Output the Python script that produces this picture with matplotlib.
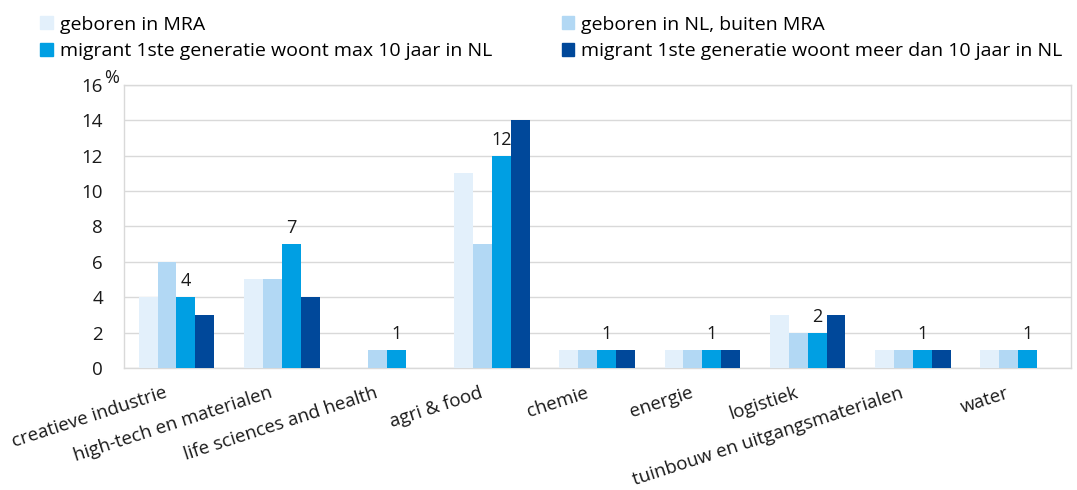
import matplotlib
matplotlib.use("Agg")
import matplotlib.pyplot as plt
import matplotlib.transforms as mtransforms
import numpy as np
from matplotlib.patches import Patch

plt.rcParams['font.family'] = ['Open Sans', 'DejaVu Sans']

categories = ["creatieve industrie", "high-tech en materialen", "life sciences and health",
              "agri & food", "chemie", "energie", "logistiek",
              "tuinbouw en uitgangsmaterialen", "water"]
series_names = ["geboren in MRA", "geboren in NL, buiten MRA",
                "migrant 1ste generatie woont max 10 jaar in NL",
                "migrant 1ste generatie woont meer dan 10 jaar in NL"]
geboren_mra = [4, 5, 0, 11, 1, 1, 3, 1, 1]
geboren_nl = [6, 5, 1, 7, 1, 1, 2, 1, 1]
migrant_max10 = [4, 7, 1, 12, 1, 1, 2, 1, 1]
migrant_meer10 = [3, 4, 0, 14, 1, 1, 3, 1, 0]
yticks = [0, 2, 4, 6, 8, 10, 12, 14, 16]

colors = ["#E3F0FB", "#B2D8F4", "#009FE3", "#00489A"]
series = [geboren_mra, geboren_nl, migrant_max10, migrant_meer10]

fig = plt.figure(figsize=(10.77, 4.90), dpi=100)
ax = fig.add_axes([0.115, 0.249, 0.879, 0.578])

x = np.arange(len(categories))
w = 0.18
for i, (vals, c) in enumerate(zip(series, colors)):
    ax.bar(x + (i - 1.5) * w, vals, width=w, color=c, label=series_names[i], zorder=3)

for xi, v in zip(x, migrant_max10):
    ax.annotate(str(v), (xi + 0.5 * w, v), xytext=(0, 5), textcoords="offset points",
                ha="center", va="bottom", fontsize=13, color="#1a1a1a")

ax.set_xlim(-0.5, len(categories) - 0.5)
ax.set_ylim(0, 16)
ax.set_yticks(yticks)
ax.set_yticklabels([str(t) for t in yticks], fontsize=13.5)
ax.set_xticks(x)
ax.set_xticklabels(categories, rotation=18, ha="right", va="baseline",
                   rotation_mode="anchor", fontsize=13.5)
ax.tick_params(axis="both", length=0, colors="#1a1a1a")
ax.tick_params(axis="y", pad=15)
ax.tick_params(axis="x", pad=21)
shift = mtransforms.ScaledTranslation(-8 / 100, 0, fig.dpi_scale_trans)
for lab in ax.get_xticklabels():
    lab.set_transform(lab.get_transform() + shift)
ax.grid(axis="y", color="#D9D9D9", linewidth=1, zorder=0)
for s in ax.spines.values():
    s.set_color("#D9D9D9")
    s.set_linewidth(1)

fig.text(0.097, 0.822, "%", fontsize=13, color="#1a1a1a", ha="left", va="bottom")

handles = [Patch(color=c) for c in colors]
order = [0, 2, 1, 3]
fig.legend([handles[i] for i in order], [series_names[i] for i in order],
           ncol=2, loc="upper left", bbox_to_anchor=(0.030, 0.984), frameon=False,
           fontsize=14, handlelength=0.65, handleheight=0.65, handletextpad=0.35,
           columnspacing=3.6, labelspacing=0.45, borderaxespad=0)

fig.savefig("out.png", dpi=100)
